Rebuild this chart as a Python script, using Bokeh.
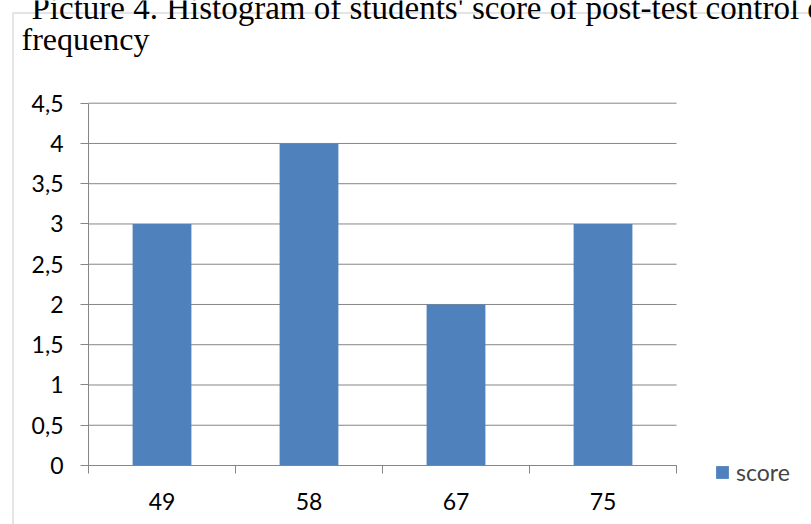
from bokeh.plotting import figure
from bokeh.models import FixedTicker, Legend, LegendItem, ColumnDataSource, Label, PolyAnnotation
from bokeh.embed import file_html
from bokeh.resources import INLINE

# score classes and how many students fall in each
scores = ["49", "58", "67", "75"]
frequency = [3, 4, 2, 3]
y_ticks = [0, 0.5, 1, 1.5, 2, 2.5, 3, 3.5, 4, 4.5]

caption = "Picture 4. Histogram of students' score of post-test control class"
y_title = "frequency"
series_name = "score"

centers = [i + 0.5 for i in range(len(scores))]
bounds = list(range(len(scores) + 1))

W, H = 811, 524
# plot-area placement in pixels: value axis from x0 to x1, zero at y0, top tick at y1
X0, X1, Y0, Y1 = 88, 676, 465, 102.7
n = len(scores)
y_top = max(y_ticks)
sx = (X1 - X0) / n
sy = (Y0 - Y1) / y_top

p = figure(width=W, height=H, output_backend="svg", toolbar_location=None,
           x_range=(-X0 / sx, (W - X0) / sx), y_range=(-(H - Y0) / sy, Y0 / sy),
           min_border=0)
p.background_fill_color = "white"
p.border_fill_color = "white"
p.outline_line_color = None
p.xgrid.visible = False
p.ygrid.visible = False

axis_col = "#868686"
font = "Lato"
fsize = "23px"

# horizontal grid lines over the plot area only
p.segment(x0=0, x1=n, y0=y_ticks, y1=y_ticks, line_color=axis_col, line_width=1)

src = ColumnDataSource(dict(x=centers, top=frequency, label=scores))
bars = p.vbar(x="x", top="top", bottom=0, width=0.4, source=src,
              fill_color="#4F81BD", line_color=None)

# y axis with comma decimals
yax = p.yaxis[0]
yax.fixed_location = 0
yax.bounds = (0, y_top)
yax.ticker = FixedTicker(ticks=y_ticks, minor_ticks=[])
yax.major_label_overrides = {t: (f"{t:g}".replace(".", ",")) for t in y_ticks}
yax.axis_line_color = axis_col
yax.major_tick_line_color = axis_col
yax.major_tick_out = 8
yax.major_tick_in = 0
yax.minor_tick_line_color = None
yax.major_label_text_font = font
yax.major_label_text_font_size = fsize
yax.major_label_text_color = "black"
yax.major_label_standoff = 17

# x axis: labels at bar centres, tick marks at class boundaries
xax = p.xaxis[0]
xax.fixed_location = 0
xax.bounds = (0, n)
xax.ticker = FixedTicker(ticks=centers, minor_ticks=bounds)
xax.major_label_overrides = {c: s for c, s in zip(centers, scores)}
xax.axis_line_color = axis_col
xax.major_tick_line_color = None
xax.major_tick_out = 0
xax.major_tick_in = 0
xax.minor_tick_line_color = axis_col
xax.minor_tick_out = 8
xax.minor_tick_in = 0
xax.major_label_text_font = font
xax.major_label_text_font_size = fsize
xax.major_label_text_color = "black"
xax.major_label_standoff = 19

legend = Legend(items=[LegendItem(label=series_name, renderers=[bars])],
                location=(714, 38), orientation="vertical",
                glyph_width=16, glyph_height=16, label_height=16, label_standoff=6,
                label_text_font=font, label_text_font_size=fsize,
                padding=0, margin=0, border_line_color=None,
                background_fill_alpha=0)
p.add_layout(legend, "center")

# grey border of the chart object (left and top edges)
p.add_layout(PolyAnnotation(xs=[12.5, 12.5, 1000, 1000], ys=[-100, H - 12.5, H - 12.5, -100],
                            xs_units="screen", ys_units="screen",
                            fill_alpha=0, line_color="#8c8c8c", line_width=1.5))

p.add_layout(Label(x=31, y=H - 7, x_units="screen", y_units="screen", text=caption,
                   text_font="Liberation Serif", text_font_size="33px",
                   text_baseline="alphabetic", text_color="black"))
p.add_layout(Label(x=21, y=H - 38, x_units="screen", y_units="screen", text=y_title,
                   text_font="Liberation Serif", text_font_size="32px",
                   text_baseline="alphabetic", text_color="black"))

open("out.html", "w").write(file_html(p, INLINE))
